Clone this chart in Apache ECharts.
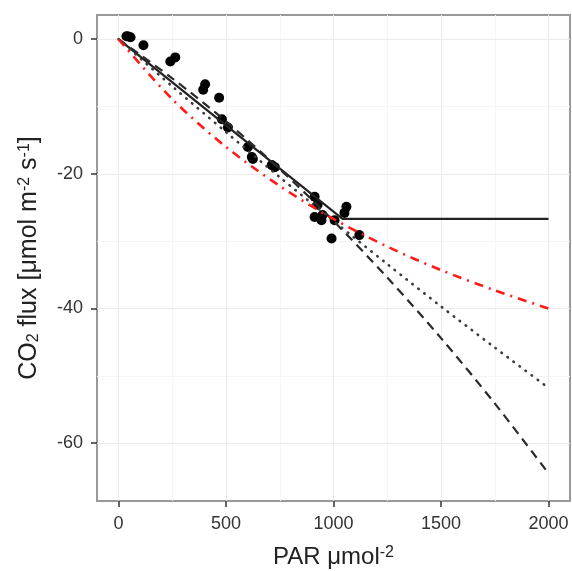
<!DOCTYPE html>
<html><head><meta charset="utf-8">
<script src="https://cdn.jsdelivr.net/npm/echarts@6/dist/echarts.min.js"></script>
<style>html,body{margin:0;padding:0;background:#fff}#c{width:572px;height:571px}</style>
</head><body><div id="c"></div>
<script>
// Observed data points (PAR, CO2 flux)
var parObs = [37, 56, 45, 116, 241, 264, 403, 394, 468, 481, 509, 602, 620, 625, 713, 727, 912, 926, 912, 949, 944, 1005, 1060, 1051, 991, 1120];
var fluxObs = [0.45, 0.3, 0.4, -0.9, -3.3, -2.7, -6.7, -7.5, -8.7, -11.9, -13.1, -16.0, -17.5, -17.8, -18.7, -19.0, -23.4, -24.6, -26.4, -26.1, -26.9, -26.9, -24.9, -25.8, -29.6, -29.1];
// Fitted model curves
var parCurve = [0, 250, 500, 750, 1000, 1250, 1500, 1750, 2000];
var fluxDashed = [0, -5.8, -12.2, -19.3, -27.0, -35.4, -44.4, -54.1, -64.5];
var fluxDotted = [0, -7.0, -13.8, -20.5, -27.0, -33.4, -39.7, -45.8, -51.8];
var fluxRed = [0, -8.9, -16.0, -21.8, -26.7, -30.8, -34.3, -37.3, -40.0];
var parSolid = [0, 1042, 2000];
var fluxSolid = [0, -26.7, -26.7];
// Axis ticks
var xTicks = [0, 500, 1000, 1500, 2000];
var xMinor = [250, 750, 1250, 1750];
var yTicks = [-60, -40, -20, 0];
var yMinor = [-50, -30, -10];

function pairs(a, b) { return a.map(function (v, i) { return [v, b[i]]; }); }

var FONT = 'Liberation Sans, Arial, sans-serif';
var txt = '#333';
var X0 = -100, X1 = 2100, Y0 = -68.6, Y1 = 3.6;
function vLines(vals) { return vals.map(function (v) { return {coords: [[v, Y0], [v, Y1]]}; }); }
function hLines(vals) { return vals.map(function (v) { return {coords: [[X0, v], [X1, v]]}; }); }
function gridSeries(lines, color) {
  return {type: 'lines', coordinateSystem: 'cartesian2d', data: lines, silent: true, z: 1,
    symbol: 'none', lineStyle: {color: color, width: 1, type: 'solid', opacity: 1}};
}

var chart = echarts.init(document.getElementById('c'), null, {renderer: 'canvas'});
chart.setOption({
  animation: false,
  backgroundColor: '#fff',
  grid: {left: 97, right: 2, top: 15, bottom: 70, show: true, borderColor: '#999', borderWidth: 2,
    backgroundColor: '#fff', containLabel: false, outerBoundsMode: 'none'},
  xAxis: {
    type: 'value', min: X0, max: X1,
    axisLine: {show: false, onZero: false},
    splitLine: {show: false},
    minorTick: {show: false}, minorSplitLine: {show: false},
    axisTick: {show: true, length: 6, inside: false, customValues: xTicks, lineStyle: {color: '#333', width: 1.5}},
    axisLabel: {customValues: xTicks, fontSize: 18, color: txt, fontFamily: FONT, margin: 14,
      formatter: function (v) { return String(v); }},
    name: 'PAR μmol{sup|-2}', nameLocation: 'middle', nameGap: 44,
    nameTextStyle: {fontSize: 24, color: '#222', fontFamily: FONT,
      rich: {sup: {fontSize: 16, color: '#222', fontFamily: FONT, verticalAlign: 'top'}}}
  },
  yAxis: {
    type: 'value', min: Y0, max: Y1,
    axisLine: {show: false, onZero: false},
    splitLine: {show: false},
    minorTick: {show: false}, minorSplitLine: {show: false},
    axisTick: {show: true, length: 6, inside: false, customValues: yTicks, lineStyle: {color: '#333', width: 1.5}},
    axisLabel: {customValues: yTicks, fontSize: 18, color: txt, fontFamily: FONT, margin: 14,
      formatter: function (v) { return String(v); }},
    name: 'CO{sub|2} flux [μmol m{sup|-2} s{sup|-1}]', nameLocation: 'middle', nameGap: 55,
    nameTextStyle: {fontSize: 25, color: '#222', fontFamily: FONT,
      rich: {sup: {fontSize: 16, color: '#222', fontFamily: FONT, verticalAlign: 'top'},
             sub: {fontSize: 16, color: '#222', fontFamily: FONT, verticalAlign: 'bottom'}}}
  },
  series: [
    gridSeries(vLines(xMinor).concat(hLines(yMinor)), '#f5f5f5'),
    gridSeries(vLines(xTicks).concat(hLines(yTicks)), '#ebebeb'),
    {type: 'scatter', data: pairs(parObs, fluxObs), symbolSize: 10, itemStyle: {color: '#000', opacity: 1}, z: 2},
    {type: 'line', data: pairs(parSolid, fluxSolid), showSymbol: false, z: 3,
      lineStyle: {color: '#222', width: 2.2, type: 'solid'}},
    {type: 'line', data: pairs(parCurve, fluxDashed), showSymbol: false, smooth: 0.3, z: 3,
      lineStyle: {color: '#2a2a2a', width: 2.2, type: [9, 6]}},
    {type: 'line', data: pairs(parCurve, fluxDotted), showSymbol: false, smooth: 0.3, z: 3,
      lineStyle: {color: '#3a3a3a', width: 2.6, type: [0.5, 7], cap: 'round'}},
    {type: 'line', data: pairs(parCurve, fluxRed), showSymbol: false, smooth: 0.3, z: 4,
      lineStyle: {color: '#ff1a1a', width: 2.6, type: [9, 6, 2, 6]}}
  ]
});
</script>
</body></html>
